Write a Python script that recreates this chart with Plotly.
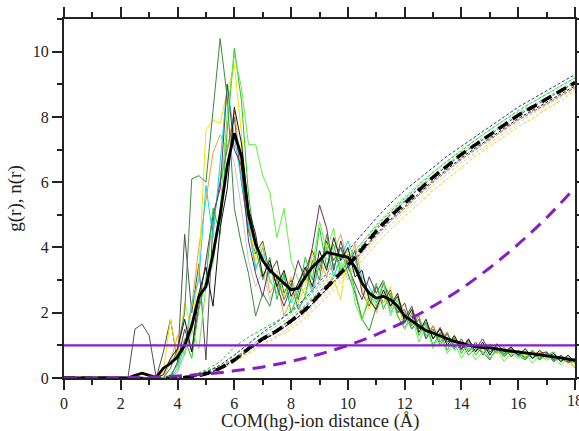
import numpy as np
import plotly.graph_objects as go

# radial grid for g(r): origin, then 0.25 Å bins from 2.0 to 18.0 Å
r_g = [0.0] + list(np.round(np.arange(2.0, 18.001, 0.25), 2))

# g(r) for the individual runs (values from r = 2.0 Å onward)
g_black = [0, 0, 0, 0, 0, 0, 0.1, 0.6,
           0.9, 1.8, 0.8, 2.6, 3.4, 2.2, 4.6, 5.8,
           8.3, 7.2, 5.2, 4.4, 3.1, 3.6, 2.8, 3.3,
           2.5, 2.9, 3.4, 2.8, 3.9, 3.3, 4.3, 3.6,
           4.0, 3.1, 3.3, 2.4, 2.1, 2.7, 2.2, 2.6,
           1.7, 2.1, 1.4, 1.8, 1.2, 1.5, 1.0, 1.3,
           0.9, 1.2, 0.8, 1.1, 0.7, 1.05, 0.8, 0.95,
           0.7, 0.9, 0.6, 0.85, 0.65, 0.75, 0.5, 0.7,
           0.5]
g_gray = [0, 0, 1.5, 1.65, 1.3, 0, 0.8, 1.8,
          0.5, 4.4, 2.0, 3.5, 0.55, 4.8, 6.0, 7.0,
          8.0, 6.0, 4.5, 3.8, 4.2, 3.2, 3.6, 2.6,
          3.0, 2.4, 3.3, 3.9, 3.3, 4.2, 3.6, 4.0,
          3.5, 3.9, 2.6, 2.2, 2.8, 2.3, 2.7, 2.0,
          2.3, 1.6, 1.9, 1.2, 1.6, 1.1, 1.4, 0.9,
          1.2, 0.8, 1.1, 0.7, 1.0, 0.75, 0.95, 0.65,
          0.85, 0.6, 0.85, 0.55, 0.8, 0.5, 0.7, 0.45,
          0.6]
g_green = [0, 0, 0, 0, 0, 0, 0, 0.1,
           0.4, 1.2, 0.6, 2.1, 3.0, 5.2, 4.4, 7.6,
           10.1, 8.5, 5.6, 4.0, 3.0, 3.7, 2.4, 3.2,
           2.0, 2.6, 3.7, 3.0, 4.6, 3.4, 4.1, 3.2,
           3.6, 2.7, 1.8, 2.4, 2.9, 2.1, 2.6, 1.9,
           1.5, 2.0, 1.3, 1.7, 1.0, 1.4, 0.85, 1.25,
           0.75, 1.1, 0.7, 0.95, 0.6, 0.85, 0.7, 0.9,
           0.75, 0.6, 0.85, 0.55, 0.7, 0.8, 0.5, 0.65,
           0.45]
g_lime = [0, 0, 0, 0, 0, 0, 0, 0,
          0.2, 0.8, 1.5, 0.9, 2.8, 3.5, 5.2, 8.1,
          9.9, 8.9, 7.15, 7.15, 6.2, 5.7, 4.3, 5.2,
          3.6, 3.0, 2.5, 3.4, 4.8, 3.9, 4.6, 3.3,
          3.8, 2.3, 1.75, 2.6, 2.2, 3.0, 1.9, 2.4,
          1.5, 1.9, 1.1, 1.6, 0.9, 1.3, 0.75, 1.1,
          0.6, 0.95, 0.55, 0.8, 0.6, 0.9, 0.5, 0.75,
          0.6, 0.8, 0.45, 0.7, 0.55, 0.65, 0.4, 0.6,
          0.45]
g_darkgreen = [0, 0, 0, 0, 0, 0, 0, 0.3,
               0.9, 2.0, 6.1, 6.2, 6.0, 8.2, 10.4, 8.6,
               5.2, 4.1, 3.2, 1.9, 2.6, 2.2, 3.1, 2.4,
               2.9, 2.1, 2.5, 3.6, 3.0, 4.4, 3.4, 4.0,
               3.2, 2.6, 1.8, 1.45, 2.2, 2.9, 2.5, 2.0,
               2.1, 1.5, 1.8, 1.2, 1.5, 1.0, 1.35, 0.95,
               1.1, 0.7, 0.9, 0.8, 0.55, 0.95, 0.65, 0.85,
               0.7, 0.55, 0.8, 0.6, 0.75, 0.5, 0.7, 0.55,
               0.5]
g_yellow = [0, 0, 0, 0, 0, 0, 0.2, 1.8,
            0.6, 2.3, 1.5, 3.3, 7.6, 7.9, 7.8, 8.8,
            9.6, 7.5, 4.9, 3.6, 4.1, 2.9, 3.3, 2.5,
            3.1, 2.3, 2.8, 3.8, 3.2, 4.1, 3.0, 2.4,
            4.0, 3.3, 2.8, 2.1, 2.6, 2.3, 2.8, 1.9,
            1.7, 2.1, 1.5, 1.65, 1.3, 1.5, 1.0, 1.3,
            0.9, 1.15, 0.8, 0.95, 1.0, 0.75, 0.9, 0.7,
            0.85, 0.7, 0.8, 0.6, 0.75, 0.55, 0.65, 0.45,
            0.35]
g_orange = [0, 0, 0, 0, 0, 0, 0, 0.5,
            1.3, 0.7, 2.2, 4.0, 5.5, 6.9, 7.45, 7.0,
            8.2, 6.3, 4.8, 3.4, 3.8, 2.6, 3.0, 1.9,
            2.4, 2.9, 3.3, 2.7, 3.6, 3.1, 3.9, 4.4,
            3.5, 4.1, 3.0, 2.5, 2.0, 2.6, 2.1, 2.5,
            2.0, 1.6, 1.9, 1.3, 1.6, 1.2, 1.4, 0.95,
            1.1, 0.85, 1.0, 0.75, 1.05, 0.8, 0.95, 0.7,
            0.8, 0.65, 0.75, 0.8, 0.6, 0.7, 0.5, 0.6,
            0.3]
g_cyan = [0, 0, 0, 0, 0, 0, 0, 0,
          0.3, 1.0, 2.3, 3.0, 5.9, 4.3, 6.6, 9.0,
          7.4, 6.0, 4.6, 3.3, 4.0, 3.0, 2.6, 3.1,
          2.3, 2.7, 3.2, 2.6, 3.5, 4.0, 3.1, 3.7,
          4.2, 3.6, 3.1, 2.8, 2.3, 2.9, 2.0, 2.4,
          1.9, 1.5, 1.8, 1.3, 1.5, 1.1, 1.25, 0.85,
          1.0, 0.9, 0.85, 1.0, 0.75, 0.9, 0.7, 0.85,
          0.65, 0.8, 0.6, 0.75, 0.7, 0.6, 0.65, 0.55,
          0.5]
g_maroon = [0, 0, 0, 0, 0, 0, 0, 0,
            0.5, 1.5, 0.8, 2.2, 3.6, 5.0, 5.8, 9.0,
            7.0, 6.5, 4.2, 3.2, 2.5, 3.5, 2.8, 2.2,
            2.8, 3.6, 3.0, 4.0, 5.3, 4.6, 3.3, 4.2,
            3.4, 2.9, 2.4, 3.1, 2.6, 3.0, 2.2, 2.5,
            1.8, 2.2, 1.5, 1.7, 1.2, 1.55, 1.1, 1.2,
            0.85, 1.15, 0.9, 1.2, 0.8, 0.95, 0.75, 0.9,
            0.7, 0.8, 0.6, 0.75, 0.8, 0.55, 0.6, 0.5,
            0.5]
g_silver = [0, 0, 0, 0, 0, 0, 0, 0,
            0.2, 0.7, 1.4, 2.4, 3.5, 4.6, 6.2, 7.2,
            6.6, 5.2, 3.6, 2.8, 3.3, 2.4, 2.9, 2.6,
            3.1, 2.5, 3.0, 3.4, 2.9, 3.7, 3.3, 3.6,
            3.0, 3.4, 2.7, 2.5, 2.8, 2.2, 2.4, 2.1,
            1.8, 1.7, 1.5, 1.55, 1.35, 1.2, 1.1, 1.15,
            1.0, 0.9, 0.95, 0.85, 0.9, 0.8, 0.85, 0.75,
            0.75, 0.7, 0.8, 0.65, 0.7, 0.6, 0.65, 0.55,
            0.45]

# run-averaged g(r)
g_mean = [0, 0, 0.08, 0.15, 0.08, 0.02, 0.3, 0.45,
          0.65, 1.0, 1.6, 2.5, 2.8, 3.8, 5.0, 6.5,
          7.5, 6.8, 5.0, 4.1, 3.6, 3.3, 3.1, 2.9,
          2.7, 2.75, 3.1, 3.4, 3.6, 3.85, 3.8, 3.75,
          3.7, 3.4, 2.9, 2.6, 2.45, 2.5, 2.4, 2.2,
          1.9, 1.75, 1.6, 1.45, 1.38, 1.3, 1.2, 1.12,
          1.07, 1.0, 0.97, 0.93, 0.92, 0.88, 0.85, 0.82,
          0.8, 0.77, 0.76, 0.72, 0.7, 0.66, 0.62, 0.58,
          0.55]

# radial grid for n(r): origin, then 0.5 Å bins from 4.0 to 18.0 Å
r_n = [0.0] + list(np.round(np.arange(4.0, 18.001, 0.5), 2))

# running coordination numbers n(r) of the individual runs (from r = 4.0 Å)
n_blue = [0, 0.06, 0.18, 0.4, 0.7, 1.05, 1.4, 1.7, 2.05, 2.45, 2.95, 3.45, 3.9, 4.4, 4.9,
          5.35, 5.75, 6.1, 6.45, 6.8, 7.1, 7.4, 7.7, 8.0, 8.3, 8.55, 8.8, 9.05, 9.3]
n_green = [0, 0.08, 0.25, 0.5, 0.95, 1.25, 1.5, 1.75, 2.0, 2.4, 2.85, 3.3, 3.7, 4.15, 4.65,
           5.1, 5.5, 5.9, 6.3, 6.65, 6.95, 7.3, 7.6, 7.9, 8.2, 8.45, 8.7, 8.95, 9.2]
n_lime = [0, 0.05, 0.15, 0.35, 0.7, 1.05, 1.35, 1.6, 1.9, 2.25, 2.75, 3.2, 3.65, 4.15, 4.7,
          5.15, 5.55, 5.95, 6.3, 6.65, 7.0, 7.3, 7.6, 7.9, 8.15, 8.45, 8.7, 8.95, 9.2]
n_cyan = [0, 0.04, 0.14, 0.33, 0.6, 0.95, 1.25, 1.5, 1.8, 2.15, 2.6, 3.05, 3.55, 4.05, 4.6,
          5.05, 5.45, 5.85, 6.2, 6.55, 6.9, 7.2, 7.5, 7.8, 8.1, 8.35, 8.6, 8.85, 9.1]
n_gray = [0, 0.1, 0.2, 0.35, 0.6, 0.9, 1.15, 1.4, 1.7, 2.05, 2.5, 2.95, 3.4, 3.85, 4.35,
          4.8, 5.2, 5.6, 6.0, 6.35, 6.7, 7.0, 7.3, 7.6, 7.9, 8.15, 8.4, 8.65, 8.9]
n_black = [0, 0.03, 0.12, 0.28, 0.55, 0.85, 1.15, 1.4, 1.7, 2.05, 2.5, 2.95, 3.4, 3.9, 4.4,
           4.85, 5.25, 5.65, 6.05, 6.4, 6.75, 7.05, 7.35, 7.65, 7.95, 8.2, 8.45, 8.7, 8.95]
n_orange = [0, 0.03, 0.15, 0.35, 0.6, 0.9, 1.2, 1.45, 1.7, 2.0, 2.45, 2.9, 3.35, 3.85, 4.35,
            4.8, 5.2, 5.6, 6.0, 6.35, 6.7, 7.0, 7.3, 7.6, 7.9, 8.15, 8.4, 8.65, 8.9]
n_yellow = [0, 0.02, 0.1, 0.25, 0.5, 0.75, 1.0, 1.25, 1.5, 1.85, 2.25, 2.7, 3.15, 3.6, 4.1,
            4.55, 4.95, 5.35, 5.75, 6.1, 6.45, 6.8, 7.1, 7.4, 7.7, 7.95, 8.25, 8.5, 8.8]
n_maroon = [0, 0.04, 0.13, 0.3, 0.55, 0.85, 1.15, 1.45, 1.8, 2.2, 2.65, 3.1, 3.55, 4.05, 4.55,
            5.0, 5.4, 5.8, 6.15, 6.5, 6.85, 7.15, 7.45, 7.75, 8.05, 8.3, 8.55, 8.8, 9.05]
n_silver = [0, 0.02, 0.1, 0.25, 0.5, 0.8, 1.05, 1.3, 1.6, 1.95, 2.35, 2.8, 3.25, 3.75, 4.25,
            4.7, 5.1, 5.5, 5.9, 6.25, 6.6, 6.9, 7.2, 7.5, 7.8, 8.1, 8.35, 8.6, 8.85]

# run-averaged n(r)
n_mean = [0, 0.04, 0.13, 0.3, 0.55, 0.9, 1.2, 1.45, 1.75, 2.1, 2.55, 3.0, 3.45, 3.95, 4.5,
          4.95, 5.35, 5.75, 6.15, 6.5, 6.85, 7.15, 7.45, 7.75, 8.05, 8.3, 8.55, 8.8, 9.05]

# uniform (bulk) reference: g = 1 and its n(r)
r_bulk = [0, 1, 2, 3, 4, 5, 6, 7, 8, 9, 10, 11, 12, 13, 14, 15, 16, 17, 18]
n_bulk = [0, 0.0, 0.01, 0.03, 0.06, 0.12, 0.22, 0.34, 0.51, 0.73, 1.0, 1.33, 1.73, 2.2,
          2.74, 3.38, 4.1, 4.91, 5.83]
g_bulk = [1.0] * len(r_bulk)

x_ticks = [0, 2, 4, 6, 8, 10, 12, 14, 16, 18]
y_ticks = [0, 2, 4, 6, 8, 10]

g_runs = [
    (g_silver, "#c8c8c8"), (g_gray, "#505050"), (g_orange, "#e8a040"),
    (g_yellow, "#f2e400"), (g_cyan, "#10d8e8"), (g_maroon, "#6a3060"),
    (g_darkgreen, "#3a8a3a"), (g_green, "#22c422"), (g_lime, "#66ee44"),
    (g_black, "#151515"),
]
n_runs = [
    (n_silver, "#c8c8c8"), (n_gray, "#505050"), (n_orange, "#e8a040"),
    (n_yellow, "#e8d800"), (n_cyan, "#10d8e8"), (n_maroon, "#6a3060"),
    (n_green, "#22c422"), (n_lime, "#66ee44"), (n_black, "#151515"),
    (n_blue, "#2030b0"),
]

fig = go.Figure()

for vals, col in n_runs:
    fig.add_trace(go.Scatter(x=r_n, y=[0.0] + vals, mode="lines",
                             line=dict(color=col, width=1, dash="3px,2px"),
                             hoverinfo="skip"))

for vals, col in g_runs:
    fig.add_trace(go.Scatter(x=r_g, y=[0.0] + vals, mode="lines",
                             line=dict(color=col, width=1), hoverinfo="skip"))

fig.add_trace(go.Scatter(x=r_g, y=[0.0] + g_mean, mode="lines",
                         line=dict(color="black", width=2.8)))
fig.add_trace(go.Scatter(x=r_n, y=[0.0] + n_mean, mode="lines", line_shape="spline",
                         line=dict(color="black", width=3.5, dash="11px,6px")))
fig.add_trace(go.Scatter(x=r_bulk, y=n_bulk, mode="lines", line_shape="spline",
                         line=dict(color="#8a1cc8", width=3, dash="13px,8px")))
fig.add_trace(go.Scatter(x=r_bulk, y=g_bulk, mode="lines",
                         line=dict(color="#8a1cc8", width=2.2)))

serif = "Liberation Serif"
ink = "#222"
axis_font = dict(family=serif, size=16, color=ink)
common = dict(
    showgrid=False, zeroline=False, showline=True, linecolor=ink, linewidth=2,
    mirror="ticks", ticks="outside", ticklen=10, tickwidth=2, tickcolor=ink,
    tickfont=axis_font, automargin=False,
    minor=dict(ticks="outside", ticklen=5, tickwidth=1.5, dtick=1, tickcolor=ink),
)
fig.update_xaxes(range=[0, 18], tickmode="array", tickvals=x_ticks,
                 ticktext=[str(v) for v in x_ticks], **common)
fig.update_yaxes(range=[0, 11], tickmode="array", tickvals=y_ticks,
                 ticktext=[str(v) for v in y_ticks],
                 title=dict(text="g(r), n(r)",
                            font=dict(family=serif, size=19, color=ink),
                            standoff=6),
                 **common)

# last x tick label sits on the page edge and is cut there
fig.add_annotation(x=x_ticks[-1], xref="x", y=0, yref="paper", yshift=-12,
                   text=str(x_ticks[-1]), showarrow=False, yanchor="top",
                   font=axis_font)
# x-axis title
fig.add_annotation(x=0.5, xref="paper", y=0, yref="paper", yshift=-43,
                   text="COM(hg)-ion distance (Å)", showarrow=False,
                   yanchor="middle", font=dict(family=serif, size=18.5, color=ink))

fig.update_layout(
    width=579, height=431,
    margin=dict(l=64, r=4, t=19, b=53),
    paper_bgcolor="white", plot_bgcolor="white",
    showlegend=False,
)

fig.write_html("out.html", config={"displayModeBar": False})
